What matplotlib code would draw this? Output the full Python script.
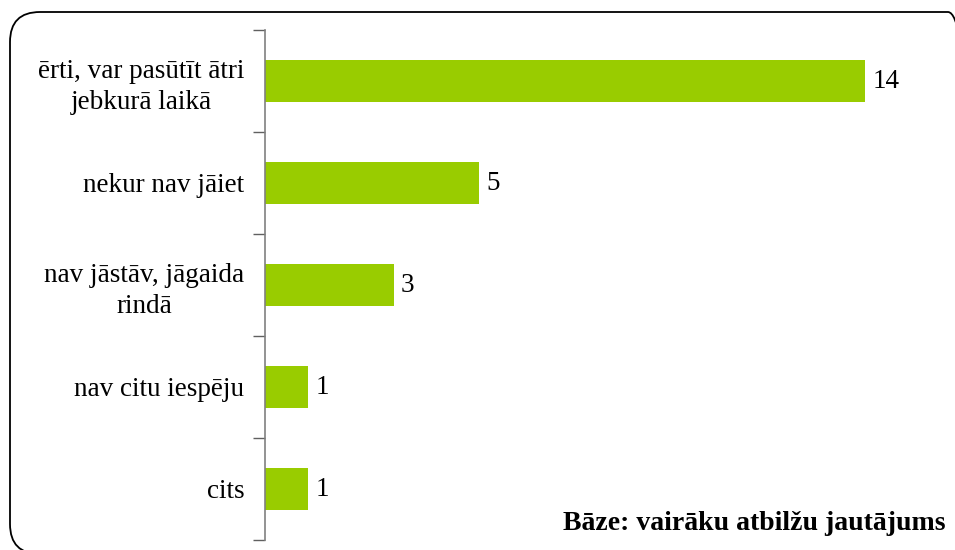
import matplotlib
matplotlib.use("Agg")
import matplotlib.pyplot as plt
from matplotlib.patches import FancyBboxPatch
import numpy as np

labels = ["ērti, var pasūtīt ātri\njebkurā laikā", "nekur nav jāiet",
          "nav jāstāv, jāgaida\nrindā", "nav citu iespēju", "cits"]
values = [14, 5, 3, 1, 1]
note = "Bāze: vairāku atbilžu jautājums"

plt.rcParams['font.family'] = ['Liberation Serif', 'DejaVu Serif']
plt.rcParams['path.simplify'] = False

W, H = 955, 550
fig = plt.figure(figsize=(W / 100, H / 100), dpi=100)

# background axes in pixel units for the rounded frame
bg = fig.add_axes([0, 0, 1, 1])
bg.set_xlim(0, W)
bg.set_ylim(0, H)
bg.axis("off")
bg.add_patch(FancyBboxPatch((10, -4), 968, 542,
                            boxstyle="round,pad=0,rounding_size=30",
                            fill=False, edgecolor="black", linewidth=1.3,
                            clip_on=False))

ax = fig.add_axes([265 / W, 10 / H, 690 / W, 510 / H])
ax.set_facecolor("none")

y = np.arange(len(values))
ax.barh(y, values, height=0.41, color="#99cc00")
ax.set_ylim(len(values) - 0.5, -0.5)
ax.set_xlim(0, 690 / (600 / 14))

for yi, v in zip(y, values):
    ax.text(v + 0.17, yi, str(v), va="center", ha="left", fontsize=19.5)

ax.set_yticks(y)
ax.set_yticklabels(labels, fontsize=19.5, ha="right", multialignment="center",
                   linespacing=1.3)
ax.tick_params(axis="y", which="major", length=0, pad=15)
ax.set_yticks(np.arange(len(values) + 1) - 0.5, minor=True)
ax.tick_params(axis="y", which="minor", length=9, color="#606060", width=1)
ax.set_xticks([])
for s in ["top", "right", "bottom"]:
    ax.spines[s].set_visible(False)
ax.spines["left"].set_color("#808080")
ax.spines["left"].set_linewidth(1.2)

fig.text(945 / W, 1 - 523 / H, note, ha="right", va="center",
         fontsize=20, fontweight="bold")

fig.savefig("out.png", dpi=100)
